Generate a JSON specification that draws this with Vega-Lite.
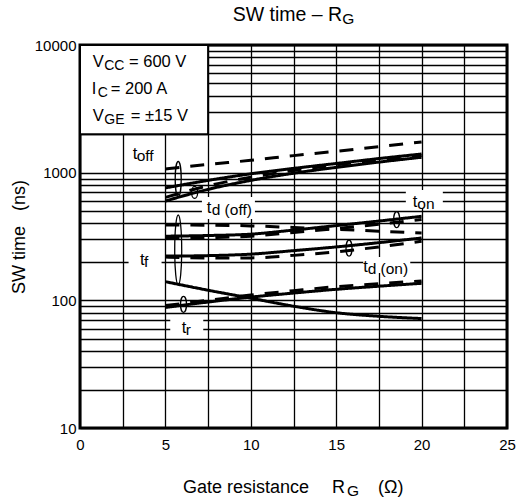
{
  "$schema": "https://vega.github.io/schema/vega-lite/v6.json",
  "width": 427,
  "height": 383,
  "autosize": "none",
  "padding": {"left": 80, "top": 45, "right": 11, "bottom": 71},
  "background": "white",
  "config": {
    "font": "Liberation Sans",
    "view": {"stroke": "black", "strokeWidth": 3},
    "axis": {"labelFont": "Liberation Sans", "titleFont": "Liberation Sans"}
  },
  "datasets": {
    "curves": [
      {"c": "toff_d", "s": "dashed", "x": 5, "y": 1070}, {"c": "toff_d", "s": "dashed", "x": 7.5, "y": 1160}, {"c": "toff_d", "s": "dashed", "x": 10, "y": 1250}, {"c": "toff_d", "s": "dashed", "x": 12.5, "y": 1360}, {"c": "toff_d", "s": "dashed", "x": 15, "y": 1470}, {"c": "toff_d", "s": "dashed", "x": 17.5, "y": 1600}, {"c": "toff_d", "s": "dashed", "x": 20, "y": 1740},
      {"c": "toff_s", "s": "solid", "x": 5, "y": 760}, {"c": "toff_s", "s": "solid", "x": 7.5, "y": 870}, {"c": "toff_s", "s": "solid", "x": 10, "y": 980}, {"c": "toff_s", "s": "solid", "x": 12.5, "y": 1080}, {"c": "toff_s", "s": "solid", "x": 15, "y": 1180}, {"c": "toff_s", "s": "solid", "x": 17.5, "y": 1290}, {"c": "toff_s", "s": "solid", "x": 20, "y": 1400},
      {"c": "tdoff_s", "s": "solid", "x": 5, "y": 600}, {"c": "tdoff_s", "s": "solid", "x": 7.5, "y": 740}, {"c": "tdoff_s", "s": "solid", "x": 10, "y": 870}, {"c": "tdoff_s", "s": "solid", "x": 12.5, "y": 990}, {"c": "tdoff_s", "s": "solid", "x": 15, "y": 1100}, {"c": "tdoff_s", "s": "solid", "x": 17.5, "y": 1210}, {"c": "tdoff_s", "s": "solid", "x": 20, "y": 1320},
      {"c": "tdoff_d", "s": "dashed", "x": 5, "y": 640}, {"c": "tdoff_d", "s": "dashed", "x": 7.5, "y": 790}, {"c": "tdoff_d", "s": "dashed", "x": 10, "y": 920}, {"c": "tdoff_d", "s": "dashed", "x": 12.5, "y": 1040}, {"c": "tdoff_d", "s": "dashed", "x": 15, "y": 1150}, {"c": "tdoff_d", "s": "dashed", "x": 17.5, "y": 1260}, {"c": "tdoff_d", "s": "dashed", "x": 20, "y": 1360},
      {"c": "tf_d", "s": "dashed", "x": 5, "y": 389}, {"c": "tf_d", "s": "dashed", "x": 7.5, "y": 388}, {"c": "tf_d", "s": "dashed", "x": 10, "y": 383}, {"c": "tf_d", "s": "dashed", "x": 12.5, "y": 372}, {"c": "tf_d", "s": "dashed", "x": 15, "y": 360}, {"c": "tf_d", "s": "dashed", "x": 17.5, "y": 348}, {"c": "tf_d", "s": "dashed", "x": 20, "y": 337},
      {"c": "ton_s", "s": "solid", "x": 5, "y": 318}, {"c": "ton_s", "s": "solid", "x": 7.5, "y": 322}, {"c": "ton_s", "s": "solid", "x": 10, "y": 330}, {"c": "ton_s", "s": "solid", "x": 12.5, "y": 355}, {"c": "ton_s", "s": "solid", "x": 15, "y": 385}, {"c": "ton_s", "s": "solid", "x": 17.5, "y": 418}, {"c": "ton_s", "s": "solid", "x": 20, "y": 455},
      {"c": "ton_d", "s": "dashed", "x": 5, "y": 305}, {"c": "ton_d", "s": "dashed", "x": 7.5, "y": 310}, {"c": "ton_d", "s": "dashed", "x": 10, "y": 318}, {"c": "ton_d", "s": "dashed", "x": 12.5, "y": 340}, {"c": "ton_d", "s": "dashed", "x": 15, "y": 365}, {"c": "ton_d", "s": "dashed", "x": 17.5, "y": 395}, {"c": "ton_d", "s": "dashed", "x": 20, "y": 430},
      {"c": "tdon_s", "s": "solid", "x": 5, "y": 222}, {"c": "tdon_s", "s": "solid", "x": 7.5, "y": 224}, {"c": "tdon_s", "s": "solid", "x": 10, "y": 230}, {"c": "tdon_s", "s": "solid", "x": 12.5, "y": 245}, {"c": "tdon_s", "s": "solid", "x": 15, "y": 262}, {"c": "tdon_s", "s": "solid", "x": 17.5, "y": 283}, {"c": "tdon_s", "s": "solid", "x": 20, "y": 308},
      {"c": "tdon_d", "s": "dashed", "x": 5, "y": 218}, {"c": "tdon_d", "s": "dashed", "x": 7.5, "y": 215}, {"c": "tdon_d", "s": "dashed", "x": 10, "y": 215}, {"c": "tdon_d", "s": "dashed", "x": 12.5, "y": 225}, {"c": "tdon_d", "s": "dashed", "x": 15, "y": 240}, {"c": "tdon_d", "s": "dashed", "x": 17.5, "y": 262}, {"c": "tdon_d", "s": "dashed", "x": 20, "y": 290},
      {"c": "tf_s", "s": "solid", "x": 5, "y": 140}, {"c": "tf_s", "s": "solid", "x": 7.5, "y": 120}, {"c": "tf_s", "s": "solid", "x": 10, "y": 104}, {"c": "tf_s", "s": "solid", "x": 12.5, "y": 90}, {"c": "tf_s", "s": "solid", "x": 15, "y": 80}, {"c": "tf_s", "s": "solid", "x": 17.5, "y": 75}, {"c": "tf_s", "s": "solid", "x": 20, "y": 72},
      {"c": "tr_s", "s": "solid", "x": 5, "y": 88}, {"c": "tr_s", "s": "solid", "x": 7.5, "y": 97}, {"c": "tr_s", "s": "solid", "x": 10, "y": 106}, {"c": "tr_s", "s": "solid", "x": 12.5, "y": 114}, {"c": "tr_s", "s": "solid", "x": 15, "y": 122}, {"c": "tr_s", "s": "solid", "x": 17.5, "y": 129}, {"c": "tr_s", "s": "solid", "x": 20, "y": 136},
      {"c": "tr_d", "s": "dashed", "x": 5, "y": 91}, {"c": "tr_d", "s": "dashed", "x": 7.5, "y": 100}, {"c": "tr_d", "s": "dashed", "x": 10, "y": 110}, {"c": "tr_d", "s": "dashed", "x": 12.5, "y": 119}, {"c": "tr_d", "s": "dashed", "x": 15, "y": 128}, {"c": "tr_d", "s": "dashed", "x": 17.5, "y": 135}, {"c": "tr_d", "s": "dashed", "x": 20, "y": 142}
    ],
    "box": [{"x": 0, "x2": 7.5, "y": 2000, "y2": 10000}],
    "bgs": [
      {"name": "tdoff", "x": 8.69, "y": 529},
      {"name": "tf", "x": 3.81, "y": 203},
      {"name": "tr", "x": 6.25, "y": 63},
      {"name": "ton", "x": 20.16, "y": 622},
      {"name": "tdon", "x": 17.96, "y": 189}
    ],
    "ells": [
      {"name": "toff", "x": 5.75, "y": 892},
      {"name": "tdoff", "x": 6.71, "y": 700},
      {"name": "tf", "x": 5.75, "y": 248},
      {"name": "tr", "x": 6.06, "y": 93},
      {"name": "ton", "x": 18.54, "y": 428},
      {"name": "tdon", "x": 15.75, "y": 256}
    ],
    "labels": [
      {"t": "V", "x": 0.744, "y": 6688, "r": "main"},
      {"t": "CC", "x": 1.42, "y": 6688, "r": "sub"},
      {"t": "= 600 V", "x": 2.87, "y": 6688, "r": "main"},
      {"t": "I", "x": 0.69, "y": 4132, "r": "main"},
      {"t": "C", "x": 1.04, "y": 4132, "r": "sub"},
      {"t": "= 200 A", "x": 1.8, "y": 4132, "r": "main"},
      {"t": "V", "x": 0.744, "y": 2554, "r": "main"},
      {"t": "GE", "x": 1.42, "y": 2554, "r": "sub"},
      {"t": "= ±15 V", "x": 2.97, "y": 2554, "r": "main"},
      {"t": "t", "x": 3.09, "y": 1279, "r": "main"},
      {"t": "off", "x": 3.32, "y": 1279, "r": "csub"},
      {"t": "t", "x": 7.42, "y": 481, "r": "main"},
      {"t": "d (off)", "x": 7.71, "y": 481, "r": "csub"},
      {"t": "t", "x": 3.51, "y": 189, "r": "main"},
      {"t": "f", "x": 3.75, "y": 189, "r": "csub"},
      {"t": "t", "x": 5.95, "y": 55.2, "r": "main"},
      {"t": "r", "x": 6.19, "y": 55.2, "r": "csub"},
      {"t": "t", "x": 19.48, "y": 541, "r": "main"},
      {"t": "on", "x": 19.75, "y": 541, "r": "csub"},
      {"t": "t", "x": 16.59, "y": 167.6, "r": "main"},
      {"t": "d (on)", "x": 16.84, "y": 167.6, "r": "csub"},
      {"t": "SW time – R", "x": 15.35, "y": 15420, "r": "title_r"},
      {"t": "G", "x": 15.35, "y": 15420, "r": "tsub"},
      {"t": "Gate resistance", "x": 6.03, "y": 3.113, "r": "title"},
      {"t": "R", "x": 14.75, "y": 3.113, "r": "title"},
      {"t": "G", "x": 15.63, "y": 3.113, "r": "tsub"},
      {"t": "(Ω)", "x": 17.45, "y": 3.113, "r": "title"}
    ]
  },
  "encoding": {
    "x": {
      "field": "x", "type": "quantitative",
      "scale": {"domain": [0, 25], "nice": false, "zero": false},
      "axis": {
        "values": [0, 2.5, 5, 7.5, 10, 12.5, 15, 17.5, 20, 22.5, 25],
        "labelExpr": "datum.value % 5 === 0 ? datum.label : ''",
        "grid": true, "gridColor": "black", "gridWidth": 1.3, "gridOpacity": 1,
        "domain": false, "ticks": false,
        "labelFontSize": 15, "labelColor": "black", "labelPadding": 9,
        "labelFlush": false, "labelOverlap": false, "labelBound": false,
        "title": null
      }
    },
    "y": {
      "field": "y", "type": "quantitative",
      "scale": {"type": "log", "domain": [10, 10000], "nice": false},
      "axis": {
        "values": [10, 20, 30, 40, 50, 60, 70, 80, 90, 100, 200, 300, 400, 500, 600, 700, 800, 900, 1000, 2000, 3000, 4000, 5000, 6000, 7000, 8000, 9000, 10000],
        "format": "d",
        "labelExpr": "indexof([10, 100, 1000, 10000], datum.value) >= 0 ? datum.label : ''",
        "grid": true, "gridColor": "black", "gridWidth": 1.3, "gridOpacity": 1,
        "domain": false, "ticks": false,
        "labelFontSize": 15, "labelColor": "black", "labelPadding": 4,
        "labelFlush": false, "labelOverlap": false, "labelBound": false,
        "title": "SW time\u00a0\u00a0\u00a0(ns)",
        "titleFontSize": 18, "titleFontWeight": "normal", "titleColor": "black", "titlePadding": 6
      }
    }
  },
  "layer": [
    {
      "data": {"name": "box"},
      "mark": {"type": "rect", "fill": "white", "stroke": "black", "strokeWidth": 2},
      "encoding": {"x2": {"field": "x2"}, "y2": {"field": "y2"}}
    },
    {
      "data": {"name": "bgs"},
      "mark": {"type": "point", "filled": true, "fill": "white", "strokeWidth": 0, "opacity": 1},
      "encoding": {
        "size": {"value": 4},
        "shape": {
          "field": "name", "type": "nominal", "legend": null,
          "scale": {
            "domain": ["tdoff", "tf", "tr", "ton", "tdon"],
            "range": [
              "M-26.5,-11L26.5,-11L26.5,11L-26.5,11Z",
              "M-16.5,-7L16.5,-7L16.5,7L-16.5,7Z",
              "M-16.5,-10L16.5,-10L16.5,10L-16.5,10Z",
              "M-18.5,-9L18.5,-9L18.5,9L-18.5,9Z",
              "M-23.5,-8L23.5,-8L23.5,8L-23.5,8Z"
            ]
          }
        }
      }
    },
    {
      "data": {"name": "curves"},
      "mark": {"type": "line", "color": "black", "strokeWidth": 3, "interpolate": "monotone"},
      "encoding": {
        "detail": {"field": "c", "type": "nominal"},
        "strokeDash": {
          "field": "s", "type": "nominal", "legend": null,
          "scale": {"domain": ["solid", "dashed"], "range": [[1, 0], [14, 11]]}
        }
      }
    },
    {
      "data": {"name": "ells"},
      "mark": {"type": "point", "filled": false, "stroke": "black", "strokeWidth": 1.3, "opacity": 1},
      "encoding": {
        "size": {"value": 4},
        "shape": {
          "field": "name", "type": "nominal", "legend": null,
          "scale": {
            "domain": ["toff", "tdoff", "tf", "tr", "ton", "tdon"],
            "range": [
              "M0,-17.5C1.66,-17.5 3,-9.67 3,0C3,9.67 1.66,17.5 0,17.5C-1.66,17.5 -3,9.67 -3,0C-3,-9.67 -1.66,-17.5 0,-17.5Z",
              "M0,-6C1.66,-6 3,-3.31 3,0C3,3.31 1.66,6 0,6C-1.66,6 -3,3.31 -3,0C-3,-3.31 -1.66,-6 0,-6Z",
              "M0,-35C1.93,-35 3.5,-19.33 3.5,0C3.5,19.33 1.93,35 0,35C-1.93,35 -3.5,19.33 -3.5,0C-3.5,-19.33 -1.93,-35 0,-35Z",
              "M0,-8C1.66,-8 3,-4.42 3,0C3,4.42 1.66,8 0,8C-1.66,8 -3,4.42 -3,0C-3,-4.42 -1.66,-8 0,-8Z",
              "M0,-8C1.66,-8 3,-4.42 3,0C3,4.42 1.66,8 0,8C-1.66,8 -3,4.42 -3,0C-3,-4.42 -1.66,-8 0,-8Z",
              "M0,-8C1.66,-8 3,-4.42 3,0C3,4.42 1.66,8 0,8C-1.66,8 -3,4.42 -3,0C-3,-4.42 -1.66,-8 0,-8Z"
            ]
          }
        }
      }
    },
    {
      "data": {"name": "labels"},
      "transform": [{"filter": "datum.r === 'main'"}],
      "mark": {"type": "text", "align": "left", "baseline": "alphabetic", "fontSize": 16.5, "color": "black", "font": "Liberation Sans"},
      "encoding": {"text": {"field": "t"}}
    },
    {
      "data": {"name": "labels"},
      "transform": [{"filter": "datum.r === 'sub'"}],
      "mark": {"type": "text", "align": "left", "baseline": "alphabetic", "fontSize": 14, "dy": 3, "color": "black", "font": "Liberation Sans"},
      "encoding": {"text": {"field": "t"}}
    },
    {
      "data": {"name": "labels"},
      "transform": [{"filter": "datum.r === 'csub'"}],
      "mark": {"type": "text", "align": "left", "baseline": "alphabetic", "fontSize": 15.5, "dy": 2, "color": "black", "font": "Liberation Sans"},
      "encoding": {"text": {"field": "t"}}
    },
    {
      "data": {"name": "labels"},
      "transform": [{"filter": "datum.r === 'title'"}],
      "mark": {"type": "text", "align": "left", "baseline": "alphabetic", "fontSize": 18, "color": "black", "font": "Liberation Sans"},
      "encoding": {"text": {"field": "t"}}
    },
    {
      "data": {"name": "labels"},
      "transform": [{"filter": "datum.r === 'title_r'"}],
      "mark": {"type": "text", "align": "right", "baseline": "alphabetic", "fontSize": 19.5, "color": "black", "font": "Liberation Sans"},
      "encoding": {"text": {"field": "t"}}
    },
    {
      "data": {"name": "labels"},
      "transform": [{"filter": "datum.r === 'tsub'"}],
      "mark": {"type": "text", "align": "left", "baseline": "alphabetic", "fontSize": 15.5, "dy": 3, "color": "black", "font": "Liberation Sans"},
      "encoding": {"text": {"field": "t"}}
    }
  ],
  "resolve": {"scale": {"shape": "independent", "strokeDash": "independent"}}
}
